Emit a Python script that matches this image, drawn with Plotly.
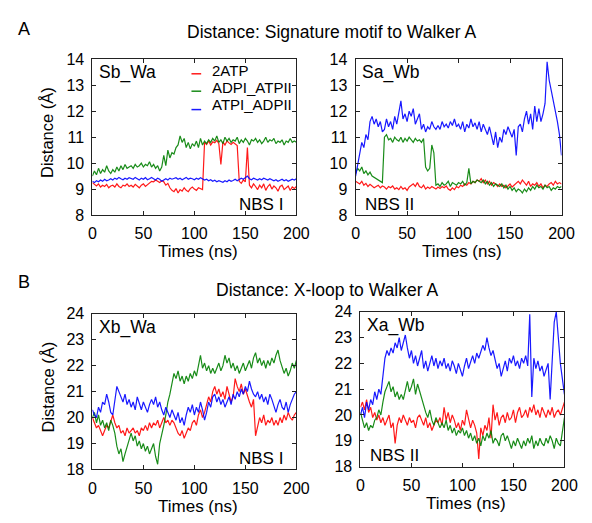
import plotly.graph_objects as go

W, H = 592, 523
time_ns = [i * 2 for i in range(101)]

series_names = ["2ATP", "ADPI_ATPII", "ATPI_ADPII"]
series_colors = ["rgba(255,0,0,0.9)", "rgba(0,128,0,0.9)", "rgba(0,0,255,0.9)"]

# ---- Panel A, left: Sb_Wa (NBS I) ----
sbwa_2atp = [9.25, 9.18, 9.12, 9.2, 9.08, 9.15, 9.1, 9.18, 9.05, 9.12,
             9.15, 9.08, 9.2, 9.1, 9.05, 9.15, 9.12, 9.2, 9.1, 9.15,
             9.08, 9.18, 9.12, 9.05, 9.15, 9.2, 9.1, 9.16, 9.22, 9.3,
             9.28, 9.35, 9.3, 9.25, 9.32, 9.28, 9.15, 9.22, 9.05, 8.95,
             8.9, 9.02, 8.85, 8.98, 8.92, 9.05, 8.95, 8.9, 9.02, 9.08,
             9.0, 8.95, 9.05, 9.02, 8.98, 10.8, 10.72, 10.85, 10.7, 10.82,
             10.78, 10.88, 10.75, 9.95, 10.82, 10.7, 10.85, 10.78, 10.72, 10.8,
             10.75, 10.68, 9.3, 9.22, 9.35, 9.28, 10.6, 9.15, 9.05, 9.2,
             9.1, 8.98, 9.15, 9.05, 9.2, 8.95, 9.1, 9.18, 9.0, 9.12,
             9.05, 8.92, 9.1, 9.15, 8.98, 9.05, 9.12, 8.95, 9.08, 9.02,
             9.1]
sbwa_adpi = [9.5, 9.7, 9.55, 9.8, 9.6, 9.75, 9.65, 9.9, 9.7, 9.6,
             9.75, 9.65, 9.85, 9.7, 9.9, 9.75, 9.95, 9.8, 9.85, 9.9,
             9.8, 9.95, 9.85, 9.9, 10.0, 9.85, 9.95, 9.9, 10.05, 9.85,
             9.95, 9.8, 9.9, 9.7, 9.85, 10.3, 9.9, 10.5, 10.2, 10.4,
             10.35, 10.6, 10.7, 11.05, 10.8, 10.95, 10.6, 10.8, 10.55, 10.75,
             10.65, 10.85, 10.6, 10.95, 10.7, 10.85, 10.75, 10.9, 10.8, 10.95,
             10.85, 11.05, 10.8, 10.9, 10.75, 11.0, 10.85, 10.95, 10.8, 10.9,
             10.85, 11.0, 10.75, 10.9, 10.8, 10.95, 10.85, 10.7, 10.9, 10.85,
             10.95, 10.8, 10.9, 10.75, 10.85, 11.0, 10.8, 10.9, 10.85, 10.95,
             10.75, 10.85, 10.8, 10.9, 10.7, 10.85, 10.8, 10.95, 10.8, 10.85,
             10.8]
sbwa_atpi = [9.3, 9.25, 9.32, 9.28, 9.35, 9.3, 9.38, 9.32, 9.35, 9.4,
             9.35, 9.42, 9.38, 9.45, 9.4, 9.36, 9.42, 9.38, 9.44, 9.4,
             9.38, 9.45, 9.4, 9.35, 9.42, 9.38, 9.44, 9.36, 9.4, 9.45,
             9.4, 9.35, 9.42, 9.38, 9.3, 9.36, 9.4, 9.35, 9.42, 9.38,
             9.4, 9.44, 9.38, 9.42, 9.36, 9.4, 9.45, 9.38, 9.42, 9.4,
             9.36, 9.42, 9.38, 9.44, 9.4, 9.35, 9.38, 9.32, 9.36, 9.3,
             9.34, 9.28, 9.32, 9.3, 9.26, 9.32, 9.28, 9.35, 9.3, 9.33,
             9.38, 9.32, 9.36, 9.42, 9.38, 9.45, 9.5, 9.4, 9.36, 9.42,
             9.38, 9.35, 9.4, 9.36, 9.42, 9.38, 9.35, 9.4, 9.36, 9.32,
             9.36, 9.3, 9.34, 9.38, 9.32, 9.36, 9.3, 9.34, 9.38, 9.35,
             9.4]

# ---- Panel A, right: Sa_Wb (NBS II) ----
sawb_2atp = [9.3, 9.25, 9.2, 9.3, 9.15, 9.22, 9.1, 9.18, 9.12, 9.05,
             9.1, 9.15, 9.05, 9.12, 9.08, 9.0, 9.1, 9.05, 9.12, 9.0,
             9.05, 8.98, 9.1, 9.0, 9.05, 8.95, 9.08, 9.15, 9.2, 9.1,
             9.25, 9.1, 9.05, 9.15, 9.0, 9.08, 9.02, 9.1, 9.05, 9.0,
             9.08, 9.02, 9.1, 9.05, 9.12, 9.0, 8.95, 9.05, 8.98, 9.1,
             9.05, 9.15, 9.1, 9.2, 9.15, 9.25, 9.2, 9.3, 9.25, 9.35,
             9.3, 9.4, 9.25, 9.35, 9.2, 9.3, 9.15, 9.25, 9.2, 9.1,
             9.2, 9.1, 9.15, 9.05, 9.12, 9.2, 9.08, 9.15, 9.25, 9.3,
             9.2, 9.35, 9.25, 9.15, 9.3, 9.1, 9.2, 9.15, 9.25, 9.1,
             9.2, 9.05, 9.15, 9.1, 9.2, 9.25, 9.15, 9.3, 9.2, 9.25,
             9.2]
sawb_adpi = [9.6, 9.8, 9.7, 9.85, 9.6, 9.7, 9.55, 9.65, 9.5, 9.45,
             9.4, 9.35, 9.3, 9.25, 11.0, 11.1, 10.9, 10.95, 10.8, 11.0,
             10.9, 10.85, 11.0, 10.8, 10.95, 10.85, 11.0, 10.9, 10.8, 10.95,
             10.85, 10.9, 10.8, 10.95, 9.85, 9.7, 9.8, 10.7, 10.4, 9.15,
             9.2, 9.1, 9.25, 9.15, 9.2, 9.3, 9.1, 9.25, 9.2, 9.15,
             9.25, 9.2, 9.3, 9.15, 9.25, 9.8, 9.2, 9.3, 9.25, 9.35,
             9.3, 9.25, 9.35, 9.2, 9.3, 9.15, 9.25, 9.1, 9.2, 9.15,
             9.1, 9.2, 9.05, 9.15, 9.0, 9.1, 8.95, 9.05, 8.9, 9.0,
             8.95, 8.85, 9.0, 8.9, 9.05, 8.95, 9.1, 9.0, 9.15, 9.05,
             9.1, 9.0, 9.15, 9.05, 9.1, 8.95, 9.05, 9.0, 9.1, 9.05,
             9.1]
sawb_atpi = [9.5, 9.9, 10.4, 10.8, 10.6, 11.1, 10.9, 11.6, 11.8, 11.5,
             11.7, 11.4, 11.6, 11.2, 11.3, 11.7, 11.4, 11.6, 11.3, 11.8,
             11.5, 11.9, 12.4, 11.7, 11.9, 11.6, 12.0, 11.8, 12.1, 11.5,
             11.7, 11.9, 11.3, 11.5, 11.2, 11.4, 11.3, 11.6, 11.4, 11.3,
             11.45, 11.3, 11.6, 11.4, 11.5, 11.35, 11.6, 11.45, 11.7, 11.4,
             11.5, 11.3, 11.6, 11.2, 11.5, 11.35, 11.7, 11.4, 11.55, 11.3,
             11.6, 11.2, 11.5, 11.3, 11.1, 11.4, 11.0, 10.7, 11.2, 10.6,
             11.0, 10.8, 11.3, 11.1, 11.4, 11.2, 11.0, 11.3, 10.3, 11.4,
             11.5, 11.2, 11.7, 12.0, 11.5, 11.9, 11.3, 12.2, 11.6, 12.1,
             11.6, 11.9, 12.3, 13.9, 13.2, 12.8, 12.4, 12.1, 11.6, 11.1,
             10.3]

# ---- Panel B, left: Xb_Wa (NBS I) ----
xbwa_2atp = [20.0, 19.8, 19.6, 19.7, 19.5, 19.3, 19.5, 19.7, 19.6, 19.9,
             20.1, 19.8, 19.6, 19.7, 19.4, 19.5, 19.3, 19.6, 19.4, 19.5,
             19.6, 19.4, 19.5, 19.3, 19.6, 19.5, 19.7, 19.5, 19.8, 19.6,
             19.8, 19.7, 19.9, 19.6, 19.8, 20.0, 19.8, 19.9, 19.7, 19.9,
             19.8, 19.6, 19.4, 19.3, 19.5, 19.2, 19.4, 19.6, 19.5, 19.8,
             19.9, 19.7, 20.1, 20.3, 20.0, 20.2, 20.5, 20.8, 20.6, 21.0,
             21.2, 20.9, 21.1, 20.8, 21.0, 20.7, 21.2, 20.9, 20.6, 20.8,
             21.5, 21.2, 21.0, 21.3, 20.9, 21.1, 20.8, 20.6, 20.4, 20.7,
             19.3, 19.7, 20.0, 19.8, 20.1, 19.7, 19.9, 19.8, 20.0, 19.7,
             19.9, 19.7, 20.0, 19.8, 20.1, 19.9, 20.2, 20.0, 19.9, 20.1,
             20.2]
xbwa_adpi = [20.0, 20.2, 19.8, 20.1, 19.7, 19.9, 19.6, 19.8, 19.5, 19.9,
             19.7, 19.4, 18.9, 18.6, 18.8, 18.3, 18.6, 18.9, 19.2, 19.4,
             19.1, 19.3, 18.9, 19.1, 18.8, 19.0, 18.7, 18.9, 18.6, 18.8,
             19.0, 18.5, 18.2, 19.0, 19.3, 19.7, 20.1, 20.6, 20.9, 21.3,
             21.7, 21.5, 21.8, 21.4, 21.6, 21.3, 21.6, 21.4, 21.7, 21.5,
             21.8, 21.6, 22.0, 22.4, 21.9, 22.1, 21.8, 22.0, 21.7, 21.9,
             21.7, 21.9, 22.1, 21.8, 22.0, 22.4, 22.1, 22.3, 21.9, 22.1,
             21.8, 22.0, 21.7, 21.9, 22.1, 21.8, 22.0, 22.2, 21.9, 22.3,
             22.5, 22.1, 22.3, 22.0, 22.2, 21.9, 22.2, 22.0, 22.3, 22.1,
             22.4, 22.6, 22.2, 21.9, 21.7, 21.9, 21.6, 21.8, 22.1, 21.9,
             22.2]
xbwa_atpi = [20.3, 20.1, 20.0, 20.4, 20.2, 20.6, 20.5, 20.9, 20.6, 20.2,
             20.1, 20.6, 21.2, 21.0, 20.8, 20.6, 20.9, 20.5, 20.7, 20.4,
             20.6, 20.3, 20.8, 20.5, 20.3, 20.6, 20.4, 20.2, 20.5, 20.7,
             20.5, 20.8, 20.4, 20.6, 20.3, 20.1, 20.4, 20.2, 20.0, 20.3,
             20.1, 19.9, 20.2, 19.8, 20.0, 19.7, 20.1, 20.4, 20.2, 20.5,
             20.1, 20.4, 20.2, 20.6, 20.3, 19.9, 20.2, 20.6, 20.4, 20.8,
             20.9, 20.6, 20.8, 20.5, 20.7, 20.4, 20.6, 20.8, 20.5, 20.9,
             20.7, 21.0, 20.8, 21.1, 20.9, 21.2, 21.0, 21.4, 21.1, 20.9,
             20.8, 21.0, 20.7, 20.9, 20.6, 20.8, 20.5, 20.9, 20.7, 20.4,
             20.2, 20.5, 20.7, 20.4, 20.3, 20.6, 20.2, 20.5, 20.7, 20.9,
             21.0]

# ---- Panel B, right: Xa_Wb (NBS II) ----
xawb_2atp = [20.3, 20.5, 20.2, 20.6, 20.1, 20.3, 19.9, 20.1, 19.8, 20.0,
             19.7, 19.9, 19.6, 19.8, 20.0, 19.5, 19.7, 18.9, 19.6, 19.9,
             19.7, 20.0, 19.8, 19.6, 19.9, 19.7, 19.8, 19.5, 19.9, 20.0,
             19.8, 19.6, 19.9, 19.5, 19.7, 19.4, 19.6, 19.8, 19.7, 19.9,
             19.6, 20.3, 19.8, 20.1, 19.7, 20.0, 19.8, 19.5, 19.7, 19.4,
             19.8, 19.6, 20.2, 19.9, 19.5, 19.8, 19.6, 19.3, 18.3, 19.5,
             19.2, 19.6, 19.4, 19.9, 19.1, 20.4, 19.8, 20.1, 19.6, 19.9,
             20.0, 19.7, 20.1, 19.8, 19.9, 20.2, 19.7, 20.1, 20.3, 19.9,
             20.0, 20.2, 19.9, 20.3, 20.1, 20.4, 20.0, 20.2, 19.9, 20.3,
             20.1, 19.9, 20.2, 20.0, 20.3, 19.9, 20.1, 20.2, 20.0, 20.3,
             20.5]
xawb_adpi = [20.1, 19.8, 19.5, 19.7, 19.4, 19.6, 19.5, 19.8, 19.9, 20.2,
             20.0, 20.5, 20.9, 21.1, 21.3, 20.9, 21.1, 20.7, 20.9, 20.6,
             20.8, 20.6, 21.0, 21.3, 20.9, 21.1, 21.4, 20.8, 21.2, 20.9,
             20.6, 20.4, 20.1, 19.9, 20.2, 19.8, 19.6, 19.9, 19.7, 19.5,
             19.7, 19.5, 19.8, 19.4, 19.6, 19.3, 19.5, 19.2, 19.4, 19.3,
             19.5, 19.2, 19.4, 19.1, 19.3, 19.0, 19.2, 18.9, 19.1, 18.8,
             19.2, 19.0, 19.3, 19.1, 19.4, 18.9, 19.1, 19.0, 18.8, 19.2,
             19.3, 19.0, 19.2, 18.9, 18.7, 19.0, 18.8, 19.1, 18.9, 18.7,
             19.0, 18.8, 19.1, 18.9, 19.2, 18.7, 19.0, 18.8, 19.1, 18.9,
             18.8, 19.1, 18.9, 19.2, 19.0, 18.7, 19.1, 18.9, 18.8, 19.3,
             19.9]
xawb_atpi = [20.0, 20.3, 19.9, 20.5, 20.2, 20.6, 20.4, 20.9, 20.6, 21.0,
             20.8, 21.6, 22.2, 22.5, 22.3, 22.6, 22.4, 22.8, 22.6, 23.0,
             22.5, 22.8, 23.1, 22.6, 22.2, 22.5, 22.0, 22.3, 21.9, 22.2,
             22.5, 21.8, 22.1, 21.7, 22.0, 22.3, 21.9, 22.2, 21.8, 22.1,
             21.9, 22.2, 21.8, 22.0, 21.7, 22.1, 21.9, 21.6, 22.0, 21.7,
             21.5, 21.9, 22.2, 21.8, 22.1, 22.3, 22.0, 22.4, 22.2, 22.5,
             22.7, 22.5, 23.0, 22.6, 22.3, 22.5, 22.1, 21.8, 22.0, 21.5,
             21.8, 22.1, 21.7, 22.2, 22.0, 22.3, 21.9, 22.1, 21.8, 22.2,
             22.0, 22.3, 21.9, 23.9, 20.7, 22.2, 21.8, 22.1, 21.7, 21.9,
             21.5, 21.8, 22.0, 20.6, 21.9, 23.6, 24.0, 22.8, 22.0, 21.4,
             20.8]

x_ticks = [0, 50, 100, 150, 200]
y_ticks_A = [8, 9, 10, 11, 12, 13, 14]
y_ticks_B = [18, 19, 20, 21, 22, 23, 24]

panels = [
    ("", [sbwa_2atp, sbwa_adpi, sbwa_atpi], (91, 301), (53, 214), y_ticks_A, "Sb_Wa", "NBS I"),
    ("2", [sawb_2atp, sawb_adpi, sawb_atpi], (362, 574), (53, 214), y_ticks_A, "Sa_Wb", "NBS II"),
    ("3", [xbwa_2atp, xbwa_adpi, xbwa_atpi], (91, 301), (316, 477), y_ticks_B, "Xb_Wa", "NBS I"),
    ("4", [xawb_2atp, xawb_adpi, xawb_atpi], (367, 577), (314, 474), y_ticks_B, "Xa_Wb", "NBS II"),
]

FONT = "Liberation Sans, Arial, Helvetica, sans-serif"

def px(x):
    return x / W

def py(y):
    return 1 - y / H

fig = go.Figure()
layout = dict(
    width=W, height=H,
    margin=dict(l=0, r=0, t=0, b=0),
    paper_bgcolor="white", plot_bgcolor="white",
    font=dict(family=FONT, size=16, color="black"),
    showlegend=False,
)
annotations = []
shapes = []

for k, (suf, data, (x0, x1), (y0, y1), yt, lab, nbs) in enumerate(panels):
    for s, (name, col) in enumerate(zip(series_names, series_colors)):
        fig.add_trace(go.Scatter(
            x=time_ns, y=data[s], mode="lines", name=name,
            line=dict(color=col, width=1.2),
            xaxis="x" + suf, yaxis="y" + suf,
        ))
    axcommon = dict(
        showline=True, linecolor="#222", linewidth=1, mirror="ticks",
        ticks="inside", ticklen=4, tickcolor="#222", showgrid=False,
        zeroline=False, tickfont=dict(size=16, family=FONT),
        fixedrange=True,
    )
    layout["xaxis" + suf] = dict(
        axcommon, domain=[px(x0), px(x1)], range=[0, 200],
        tickvals=x_ticks, anchor="y" + suf, ticklabelstandoff=4,
    )
    layout["yaxis" + suf] = dict(
        axcommon, domain=[py(y1), py(y0)], range=[yt[0], yt[-1]],
        tickvals=yt, anchor="x" + suf, ticklabelstandoff=4,
    )
    annotations.append(dict(x=px(x0 + 5), y=py(y0 + 14), xref="paper", yref="paper",
                            text=lab, showarrow=False, xanchor="left", yanchor="middle",
                            font=dict(size=17.5)))
    if suf in ("", "3"):
        annotations.append(dict(x=px(x1 - 12), y=py(y1 - 11), xref="paper", yref="paper",
                                text=nbs, showarrow=False, xanchor="right", yanchor="middle",
                                font=dict(size=17)))
    else:
        annotations.append(dict(x=px(x0 + 8), y=py(y1 - 11), xref="paper", yref="paper",
                                text=nbs, showarrow=False, xanchor="left", yanchor="middle",
                                font=dict(size=17)))
    annotations.append(dict(x=px((x0 + x1) / 2 + 4), y=py(y1 + 38), xref="paper", yref="paper",
                            text="Times (ns)", showarrow=False, xanchor="center", yanchor="middle",
                            font=dict(size=17)))
    if suf in ("", "3"):
        annotations.append(dict(x=px(45), y=py((y0 + y1) / 2 - 5), xref="paper", yref="paper",
                                text="Distance (Å)", showarrow=False, textangle=-90,
                                xanchor="center", yanchor="middle", font=dict(size=16.5)))

# legend (top-left panel): short coloured line + name
legend_text_y = [65, 82, 100]
legend_line_y = [68, 86, 105]
for name, col, ty, ly in zip(series_names, series_colors, legend_text_y, legend_line_y):
    shapes.append(dict(type="line", xref="paper", yref="paper",
                       x0=px(193), x1=px(203), y0=py(ly), y1=py(ly),
                       line=dict(color=col, width=1.5)))
    annotations.append(dict(x=px(212), y=py(ty), xref="paper", yref="paper", text=name,
                            showarrow=False, xanchor="left", yanchor="middle",
                            font=dict(size=15)))

annotations += [
    dict(x=px(338), y=py(25), xref="paper", yref="paper", text="Distance: Signature motif to Walker A",
         showarrow=False, xanchor="center", yanchor="middle", font=dict(size=17.5)),
    dict(x=px(333), y=py(291), xref="paper", yref="paper", text="Distance: X-loop to Walker A",
         showarrow=False, xanchor="center", yanchor="middle", font=dict(size=17.5)),
    dict(x=px(21), y=py(22), xref="paper", yref="paper", text="A",
         showarrow=False, xanchor="center", yanchor="middle", font=dict(size=18)),
    dict(x=px(21), y=py(283), xref="paper", yref="paper", text="B",
         showarrow=False, xanchor="center", yanchor="middle", font=dict(size=18)),
]
layout["annotations"] = annotations
layout["shapes"] = shapes
fig.update_layout(**layout)
fig.write_html(
    "out.html",
    config={"displayModeBar": False},
    post_script="document.body.style.margin='0';document.body.style.overflow='hidden';",
)
